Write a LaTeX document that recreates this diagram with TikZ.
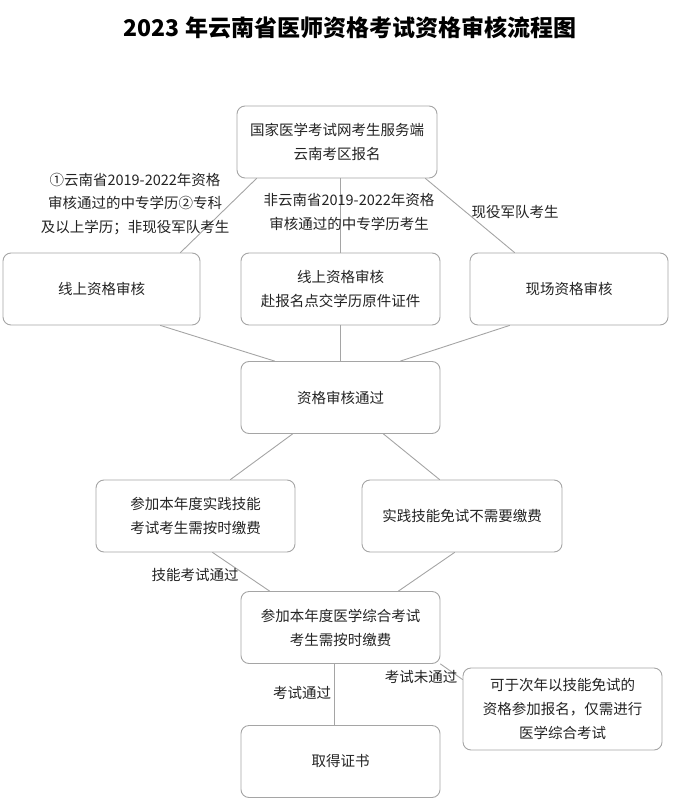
\documentclass[tikz,border=0pt]{standalone}
\usepackage{fontspec}
\setmainfont{Noto Sans CJK SC}
\usetikzlibrary{calc}
\definecolor{linegray}{RGB}{165,165,165}
\definecolor{textgray}{RGB}{35,35,35}

\begin{document}
\begin{tikzpicture}[x=1pt,y=-1pt,line cap=round,line join=round,
  stepbox/.style={draw=linegray,line width=0.9pt,rounded corners=8pt,minimum width=199pt,minimum height=72pt,align=center,font=\fontsize{14.5}{24}\selectfont,text=textgray},
  lbl/.style={align=center,font=\fontsize{14.5}{23.5}\selectfont,text=textgray},
  conn/.style={draw=linegray,line width=0.9pt}]
\useasboundingbox (0,0) rectangle (700,810);
\node[font=\bfseries\fontsize{23}{28}\selectfont] (title) at (350,28) {2023 年云南省医师资格考试资格审核流程图};
% boxes
\node[stepbox,minimum width=200pt] (reg) at (337,142) {国家医学考试网考生服务端\\云南考区报名};
\node[stepbox,minimum width=197pt] (online) at (101.5,289) {线上资格审核};
\node[stepbox] (mid) at (340.5,289) {线上资格审核\\赴报名点交学历原件证件};
\node[stepbox,minimum width=198pt] (scene) at (569,289) {现场资格审核};
\node[stepbox] (pass) at (340.5,397.5) {资格审核通过};
\node[stepbox] (skill) at (195.5,516) {参加本年度实践技能\\考试考生需按时缴费};
\node[stepbox,minimum width=200pt] (exempt) at (462,516) {实践技能免试不需要缴费};
\node[stepbox] (comp) at (340.5,627.5) {参加本年度医学综合考试\\考生需按时缴费};
\node[stepbox,minimum height=82pt] (retry) at (562.5,709) {可于次年以技能免试的\\资格参加报名，仅需进行\\医学综合考试};
\node[stepbox] (cert) at (340.5,761.5) {取得证书};
% connectors
\draw[conn] ([xshift=20pt]reg.south west) -- ([xshift=-20pt]online.north east);
\draw[conn] (mid.north) -- (mid.north |- reg.south);
\draw[conn] ([xshift=-12pt]reg.south east) -- ([xshift=45pt]scene.north west);
\draw[conn] ([xshift=-40pt]online.south east) -- ([xshift=34pt]pass.north west);
\draw[conn] (mid.south) -- (pass.north);
\draw[conn] ([xshift=40pt]scene.south west) -- ([xshift=-40pt]pass.north east);
\draw[conn] ([xshift=52pt]pass.south west) -- ([xshift=-65pt]skill.north east);
\draw[conn] ([xshift=-57pt]pass.south east) -- ([xshift=78pt]exempt.north west);
\draw[conn] ([xshift=117pt]skill.south west) -- ([xshift=29pt]comp.north west);
\draw[conn] ([xshift=93pt]exempt.south west) -- ([xshift=-42pt]comp.north east);
\draw[conn] (comp.south east) -- ([yshift=-12pt]retry.north west);
\draw[conn] ([xshift=-6pt]comp.south) -- ([xshift=-6pt]cert.north);
% labels
\node[lbl] (l1) at (135,204) {①云南省2019-2022年资格\\审核通过的中专学历②专科\\及以上学历；非现役军队考生};
\node[lbl] (l2) at (349,212) {非云南省2019-2022年资格\\审核通过的中专学历考生};
\node[lbl] (l3) at (515,212) {现役军队考生};
\node[lbl] (l4) at (195,575) {技能考试通过};
\node[lbl] (l5) at (421,677) {考试未通过};
\node[lbl] (l6) at (302,693) {考试通过};
\end{tikzpicture}
\end{document}
